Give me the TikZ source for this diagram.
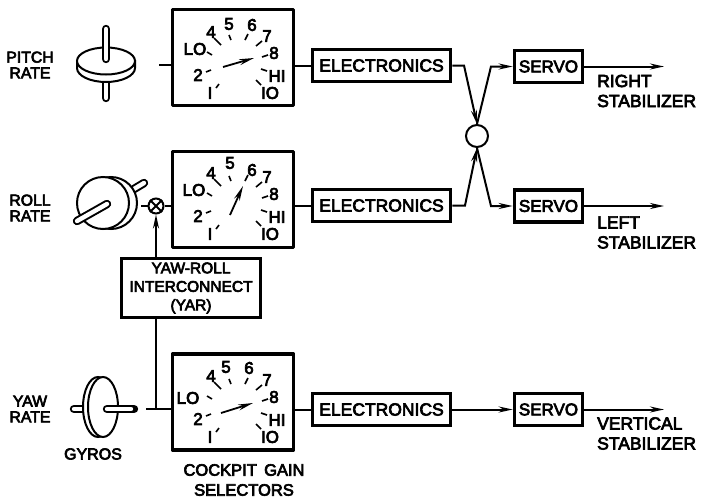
\documentclass[tikz,border=0pt]{standalone}
\usepackage{fontspec}
\setmainfont[FakeBold=4]{Liberation Sans}
\usetikzlibrary{arrows.meta,calc}
\tikzset{
  dialbox/.style={draw,line width=3.6pt,minimum width=121pt,minimum height=96pt,inner sep=0pt,line join=round},
  elecbox/.style={draw,line width=3.6pt,minimum width=138pt,minimum height=32pt,inner sep=0pt,font=\fontsize{17.5}{18}\selectfont},
  servobox/.style={draw,line width=3.6pt,minimum width=68pt,minimum height=32pt,inner sep=0pt,font=\fontsize{17}{18}\selectfont},
  yarbox/.style={draw,line width=3.6pt,minimum width=139pt,minimum height=59pt,inner sep=0pt,align=center,font=\fontsize{15.5}{18.5}\selectfont},
  wire/.style={line width=2pt},
  tick/.style={line width=1.6pt},
  gyro/.style={line width=2pt,fill=white},
  needle/.style={line width=1.8pt,-{Stealth[length=15pt,width=6pt]}},
  flow/.style={line width=2pt,-{Stealth[length=14pt,width=6pt]}},
  shaftout/.style={line width=8.4pt,line cap=round},
  shaftin/.style={line width=4.4pt,line cap=round,white},
  lbl/.style={inner sep=0pt,align=center,font=\fontsize{15.8}{15.8}\selectfont},
  lblr/.style={inner sep=0pt,anchor=west,font=\fontsize{17.5}{18}\selectfont},
  dig/.style={inner sep=0pt,font=\fontsize{17}{17}\selectfont},
  junction/.style={circle,draw,line width=2pt,minimum size=15pt,inner sep=0pt},
  summer/.style={circle,draw,line width=2pt,minimum size=22pt,inner sep=0pt}
}
% #1 name prefix, #2 y offset, #3 LO, #4 five, #5 six
\newcommand{\dialface}[5]{%
  \begin{scope}[yshift=-#2pt]
    \node[dig] (#1lo) at (#3) {LO};
    \node[dig] (#1d4) at (211,-32) {4};
    \node[dig] (#1d5) at (#4) {5};
    \node[dig] (#1d6) at (#5) {6};
    \node[dig] (#1d7) at (267,-36) {7};
    \node[dig] (#1d8) at (274,-53) {8};
    \node[dig] (#1hi) at (277,-76) {HI};
    \node[dig] (#1ten) at (270,-93) {IO};
    \node[dig] (#1d1) at (210,-93) {I};
    \node[dig] (#1d2) at (198,-75) {2};
    \draw[tick] (207,-52)--(212,-55) (214,-38)--(221,-45) (229,-35)--(231,-40)
      (248,-34)--(245,-40) (262,-41)--(256,-46) (268,-55)--(262,-57)
      (261,-69)--(267,-71) (256,-80)--(261,-85) (216,-88)--(219,-84) (206,-72)--(211,-70);
  \end{scope}}
\begin{document}
\begin{tikzpicture}[x=1pt,y=1pt]
\useasboundingbox (0,0) rectangle (702,-501);
% dials
\node[dialbox] (d1) at (233,-57.5) {};
\node[dialbox] (d2) at (233,-199.5) {};
\node[dialbox] (d3) at (233,-402) {};
\dialface{a}{0}{195,-49}{229,-24}{252,-25}
\dialface{b}{141}{194,-49}{230,-22}{252,-29}
\dialface{c}{344}{188,-54}{226,-23}{249,-24}
\coordinate (n1s) at (223,-67); \coordinate (n1e) at (254,-58);
\coordinate (n2s) at (230,-215); \coordinate (n2e) at (243,-186);
\coordinate (n3s) at (221,-413); \coordinate (n3e) at (253,-403);
\draw[needle] (n1s)--(n1e);
\draw[needle] (n2s)--(n2e);
\draw[needle] (n3s)--(n3e);
% boxes
\node[elecbox] (e1) at (381.5,-65.5) {ELECTRONICS};
\node[elecbox] (e2) at (381.5,-205.5) {ELECTRONICS};
\node[elecbox] (e3) at (381.5,-409.5) {ELECTRONICS};
\node[servobox] (s1) at (548.5,-66.5) {SERVO};
\node[servobox] (s2) at (548.5,-206) {SERVO};
\node[servobox] (s3) at (548.5,-409.5) {SERVO};
\node[yarbox] (yar) at (191,-288) {YAW-ROLL\\INTERCONNECT\\(YAR)};
\node[summer] (sum) at (477,-136) {};
\node[junction] (j) at (156,-206) {};
\draw[line width=2pt] (j.north west)--(j.south east) (j.north east)--(j.south west);
% coordinates
\coordinate (in1) at (159,-65);
\coordinate (in2) at (141,-206);
\coordinate (in3) at (146,-409);
\coordinate (b1) at (464,-65.5);
\coordinate (b2) at (465,-205.5);
\coordinate (o1) at (491,-66.5);
\coordinate (o2) at (491,-206);
\coordinate (r1) at (664,-66.5);
\coordinate (r2) at (664,-206);
\coordinate (r3) at (664,-409.5);
\coordinate (jy) at (156,-409);
% connectors
\draw[wire] (in1)--(d1.west |- in1);
\draw[wire] (in2)--(j);
\draw[wire] (j)--(d2.west |- j);
\draw[wire] (in3)--(d3.west |- in3);
\draw[wire] (yar.south -| j)--(jy);
\draw[flow] (yar.north -| j)--(j.south);
\draw[wire] (d1.east |- e1)--(e1);
\draw[wire] (d2.east |- e2)--(e2);
\draw[wire] (d3.east |- e3)--(e3);
\draw[flow] (e1.east)--(b1)--(sum.north);
\draw[flow] (e2.east)--(b2)--(sum.south);
\draw[flow] (sum.north)--(o1)--(s1.west);
\draw[flow] (sum.south)--(o2)--(s2.west);
\draw[flow] (e3.east)--(s3.west);
\draw[flow] (s1.east)--(r1);
\draw[flow] (s2.east)--(r2);
\draw[flow] (s3.east)--(r3);
% pitch gyro
\draw[shaftout] (106,-70)--(106,-98);
\draw[shaftin] (106,-70)--(106,-98);
\draw[gyro] (77,-61) -- (77,-68) arc [start angle=180,end angle=360,x radius=29,y radius=14] -- (135,-61) -- cycle;
\draw[gyro] (106,-61) ellipse [x radius=29,y radius=13.5];
\draw[shaftout] (106,-29)--(106,-59);
\draw[shaftin] (106,-29)--(106,-59);
% roll gyro
\draw[shaftout] (134,-189)--(144,-183);
\draw[shaftin] (134,-189)--(144,-183);
\draw[gyro] (111,-203) circle (26);
\draw[gyro] (103,-203) circle (26);
\draw[shaftout] (77,-221)--(107,-204);
\draw[shaftin] (77,-221)--(107,-204);
% yaw gyro
\draw[shaftout] (74,-409)--(90,-409);
\draw[shaftin] (74,-409)--(90,-409);
\draw[gyro] (98,-407) ellipse [x radius=15,y radius=30];
\draw[gyro] (103,-407) ellipse [x radius=15,y radius=30];
\draw[shaftout] (107,-409)--(134,-409);
\draw[shaftin] (107,-409)--(131,-409);
% labels
\node[lbl] (lp) at (30,-65) {PITCH\\RATE};
\node[lbl] (lr) at (30,-208) {ROLL\\RATE};
\node[lbl] (ly) at (30,-409) {YAW\\RATE};
\node[lbl,font=\fontsize{16}{16}\selectfont] (lg) at (93,-454) {GYROS};
\node[lbl,font=\fontsize{16.5}{20}\selectfont] (lc) at (244,-480) {COCKPIT\, GAIN\\SELECTORS};
\node[lblr,align=left] (t1) at (597,-91) {RIGHT\\[2pt]STABILIZER};
\node[lblr,align=left] (t2) at (597,-232.5) {LEFT\\[2pt]STABILIZER};
\node[lblr,align=left] (t3) at (597,-433.5) {VERTICAL\\[2pt]STABILIZER};
\end{tikzpicture}
\end{document}
